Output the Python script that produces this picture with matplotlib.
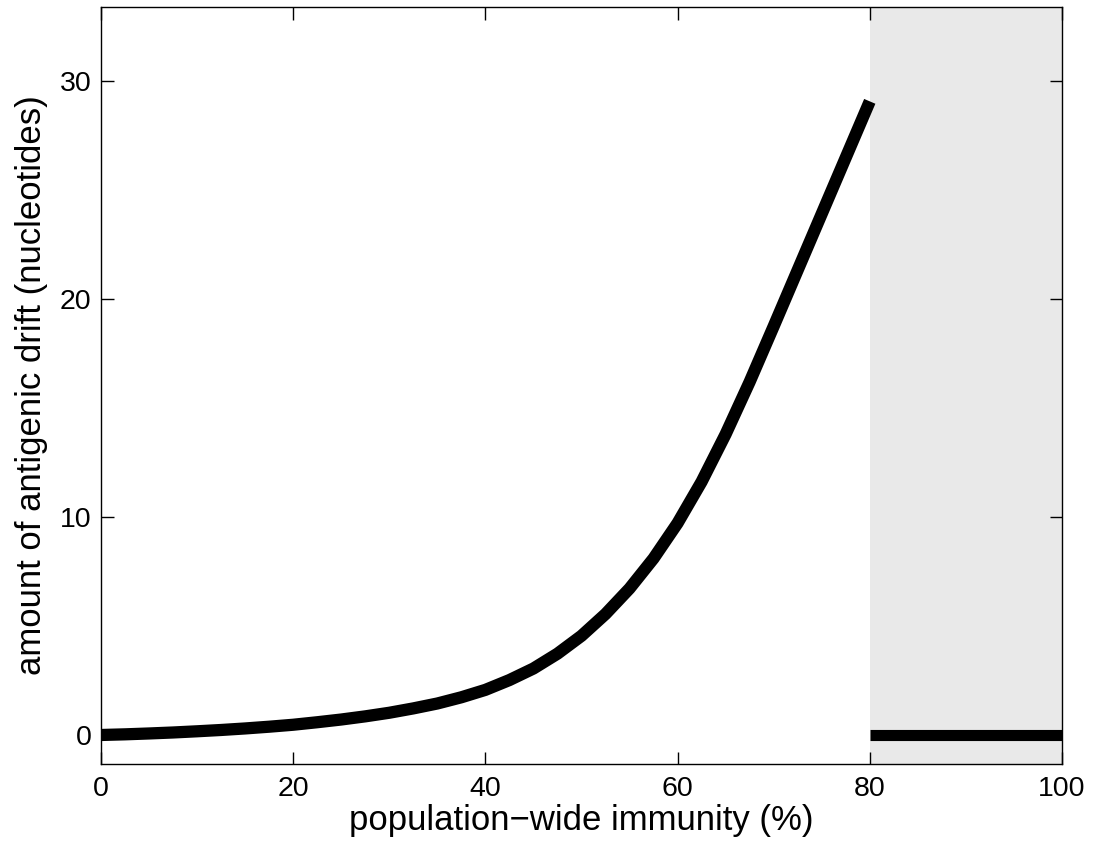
import matplotlib
matplotlib.use("Agg")
import matplotlib.pyplot as plt

# immunity (%) and antigenic drift (nucleotides)
immunity = [0, 2.5, 5, 7.5, 10, 12.5, 15, 17.5, 20, 22.5, 25, 27.5, 30, 32.5, 35, 37.5,
            40, 42.5, 45, 47.5, 50, 52.5, 55, 57.5, 60, 62.5, 65, 67.5, 70, 72.5, 75, 77.5, 80]
drift = [0, 0.03, 0.07, 0.115, 0.17, 0.23, 0.30, 0.38, 0.47, 0.585, 0.71, 0.855, 1.02, 1.22,
         1.445, 1.73, 2.07, 2.52, 3.05, 3.73, 4.55, 5.55, 6.72, 8.10, 9.72, 11.62, 13.80,
         16.20, 18.75, 21.33, 23.91, 26.49, 29.07]
flat_x = [80, 100]
flat_y = [0, 0]
shade_range = [80, 100]
xticks = [0, 20, 40, 60, 80, 100]
yticks = [0, 10, 20, 30]

plt.rcParams['font.family'] = ['Liberation Sans', 'DejaVu Sans']

fig = plt.figure(figsize=(10.99, 8.5), dpi=100)
ax = fig.add_axes([0.0919, 0.1012, 0.8744, 0.8906])

ax.axvspan(shade_range[0], shade_range[1], color='#e9e9e9', zorder=0, lw=0)
ax.plot(immunity, drift, color='black', lw=8.8, solid_capstyle='butt',
        solid_joinstyle='round', zorder=3)
ax.plot(flat_x, flat_y, color='black', lw=8.0, solid_capstyle='butt', zorder=3)

ax.set_xlim(0, 100)
ax.set_ylim(-1.33, 33.4)
ax.set_xticks(xticks)
ax.set_yticks(yticks)
ax.tick_params(direction='in', top=True, right=True, length=9, width=1.0,
               labelsize=20.5)
ax.tick_params(axis='x', pad=9)
ax.tick_params(axis='y', pad=7)
for s in ax.spines.values():
    s.set_linewidth(1.0)

ax.set_xlabel('population\u2212wide immunity (%)', fontsize=25, labelpad=1)
ax.set_ylabel('amount of antigenic drift (nucleotides)', fontsize=25, labelpad=8)

fig.savefig('out.png', dpi=100)
